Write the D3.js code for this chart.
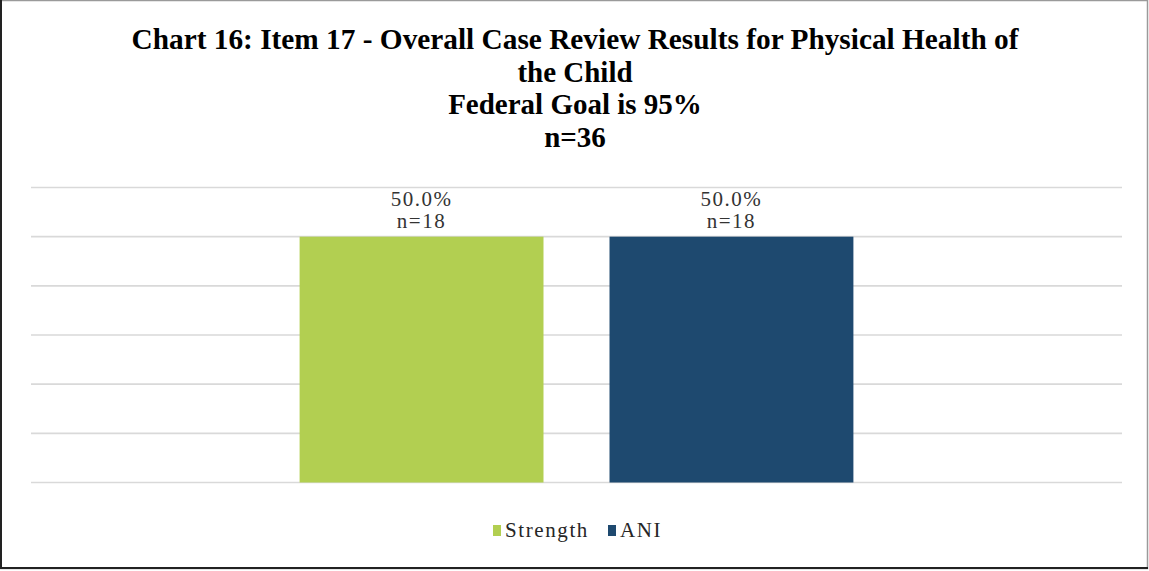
<!DOCTYPE html>
<html>
<head>
<meta charset="utf-8">
<script src="https://cdn.jsdelivr.net/npm/d3@7"></script>
<style>
  body { margin: 0; background: #fff; }
  text { font-family: "Liberation Serif", "Times New Roman", serif; fill: #000; }
</style>
</head>
<body>
<svg id="chart" width="1149" height="571"></svg>
<script>
// DATA
const titleLines = [
  'Chart 16: Item 17 - Overall Case Review Results for Physical Health of',
  'the Child',
  'Federal Goal is 95%',
  'n=36',
];
const categories = [''];
const seriesNames = ['Strength', 'ANI'];
const seriesValues = [0.5, 0.5];
const seriesCounts = [18, 18];
const seriesColors = ['#b2cf51', '#1e496f'];
const yTicks = [0, 0.1, 0.2, 0.3, 0.4, 0.5, 0.6];

//SETUP
const svg = d3.select('#chart');
const width = +svg.attr('width');
const height = +svg.attr('height');

const plot = { top: 187.5, bottom: 482.5, left: 31, right: 1122 };

//FRAME
svg.append('rect')
  .attr('x', 0.5).attr('y', 0.5)
  .attr('width', width - 2).attr('height', height - 3)
  .attr('fill', '#fff')
  .attr('stroke', '#9a9a9a')
  .attr('stroke-width', 1.5);
svg.append('line')
  .attr('x1', 1).attr('x2', 1).attr('y1', 0).attr('y2', height - 2)
  .attr('stroke', '#222').attr('stroke-width', 2);
svg.append('line')
  .attr('x1', 0).attr('x2', width - 1).attr('y1', height - 3).attr('y2', height - 3)
  .attr('stroke', '#222').attr('stroke-width', 2);

//TITLE
svg.append('g')
  .selectAll('text')
  .data(titleLines)
  .join('text')
  .attr('x', 575)
  .attr('y', (d, i) => 49 + i * 32.5)
  .attr('text-anchor', 'middle')
  .style('font-size', '29px')
  .style('font-weight', 'bold')
  .text((d) => d)
  .each(function (d, i) {
    if (i === 0) {
      d3.select(this).attr('textLength', 887).attr('lengthAdjust', 'spacingAndGlyphs');
    }
  });

//SCALES
const yScale = d3.scaleLinear().domain([0, 0.6]).range([plot.bottom, plot.top]);

const x0 = d3.scaleBand()
  .domain(categories)
  .range([plot.left, plot.right])
  .paddingInner(0)
  .paddingOuter(0.485);

const x1 = d3.scaleBand()
  .domain(seriesNames)
  .range([0, x0.bandwidth()])
  .paddingInner(0.213)
  .paddingOuter(0);

//GRID
svg.append('g')
  .selectAll('line')
  .data(yTicks)
  .join('line')
  .attr('x1', plot.left)
  .attr('x2', plot.right)
  .attr('y1', (d) => yScale(d))
  .attr('y2', (d) => yScale(d))
  .attr('stroke', '#d9d9d9')
  .attr('stroke-width', 1.6);

//BARS
const bars = seriesNames.map((name, i) => ({
  name,
  value: seriesValues[i],
  n: seriesCounts[i],
  color: seriesColors[i],
  cat: categories[0],
}));

svg.append('g')
  .selectAll('rect')
  .data(bars)
  .join('rect')
  .attr('x', (d) => x0(d.cat) + x1(d.name))
  .attr('y', (d) => yScale(d.value))
  .attr('width', x1.bandwidth())
  .attr('height', (d) => yScale(0) - yScale(d.value))
  .attr('fill', (d) => d.color);

//LABELS
const labels = svg.append('g')
  .selectAll('text')
  .data(bars)
  .join('text')
  .attr('x', (d) => x0(d.cat) + x1(d.name) + x1.bandwidth() / 2)
  .attr('y', (d) => yScale(d.value) - 30.5)
  .attr('text-anchor', 'middle')
  .style('font-size', '21px')
  .style('letter-spacing', '1.5px')
  .style('fill', '#333');

labels.append('tspan').text((d) => d3.format('.1%')(d.value));
labels.append('tspan')
  .attr('x', (d) => x0(d.cat) + x1(d.name) + x1.bandwidth() / 2)
  .attr('dy', 21.6)
  .text((d) => `n=${d.n}`);

//LEGEND
const legend = svg.append('g').attr('transform', 'translate(493,537)');
const legendX = [0, 115];

const items = legend.selectAll('g')
  .data(bars)
  .join('g')
  .attr('transform', (d, i) => `translate(${legendX[i]},0)`);

items.append('rect')
  .attr('x', 0)
  .attr('y', -12)
  .attr('width', 8)
  .attr('height', 11)
  .attr('fill', (d) => d.color);

items.append('text')
  .attr('x', 12)
  .attr('y', 0)
  .style('font-size', '21px')
  .style('letter-spacing', '1.6px')
  .style('fill', '#262626')
  .text((d) => d.name);
</script>
</body>
</html>
